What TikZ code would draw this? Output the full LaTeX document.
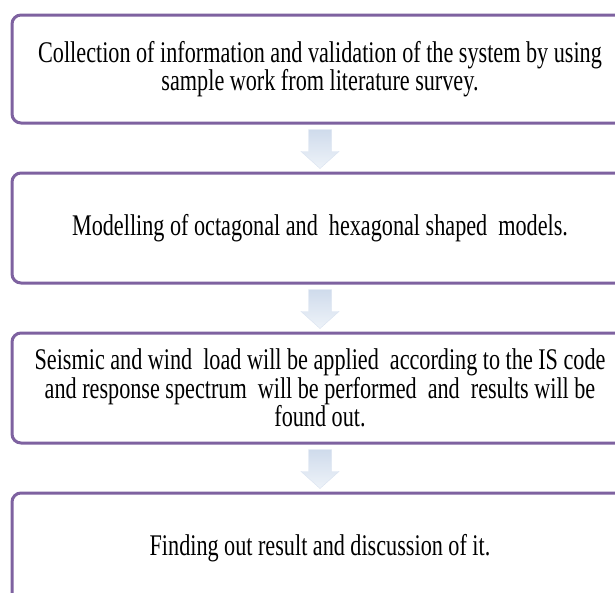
\documentclass[tikz,border=0pt]{standalone}
\usepackage{fontspec}
\setmainfont{Liberation Serif}
\newfontfamily\stepfont[FakeStretch=0.74]{Liberation Serif}
\usetikzlibrary{calc}
\definecolor{boxline}{HTML}{7E62A0}
\definecolor{arrtop}{HTML}{CFDBEC}
\definecolor{arrbot}{HTML}{EEF3F9}
\begin{document}
\begin{tikzpicture}[x=1pt,y=1pt,
    stepbox/.style={draw=boxline,line width=3pt,rounded corners=9pt,fill=white,
      minimum width=616pt,inner sep=3pt,text width=608pt,align=flush center,
      font=\stepfont\fontsize{30}{24.5}\selectfont,
      execute at begin node={\spaceskip=5.5pt\relax\xspaceskip=5.5pt\relax}},
    downarr/.style={top color=arrtop,bottom color=arrbot,draw=arrtop!80!white,line width=0.4pt}]
  \useasboundingbox(0,0)rectangle(615,-592);
  \clip(0,0)rectangle(615,-592);
  \node[stepbox,minimum height=108pt](b1)at(320,-69){Collection of information and validation of the system by using\\sample work from literature survey.};
  \node[stepbox,minimum height=110pt](b2)at(320,-228){Modelling of octagonal and\ \ hexagonal shaped\ \ models.};
  \node[stepbox,minimum height=110pt](b3)at(320,-388){Seismic and wind\ \ load will be applied\ \ according to the IS code\\and response spectrum\ \ will be performed\ \ and\ \ results will be\\found out.};
  \node[stepbox,minimum height=110pt](b4)at(320,-548){Finding out result and discussion of it.};
  %block arrows between the steps
  \foreach \a/\b in {b1/b2,b2/b3,b3/b4}{
    \coordinate(t)at($(\a.south)+(0,-5)$);
    \coordinate(h)at($(\b.north)+(0,3)$);
    \shade[downarr]($(t)+(-11.5,0)$)--($(t)+(11.5,0)$)--($(t)+(11.5,-22)$)--($(t)+(19,-22)$)
      --(h)--($(t)+(-19,-22)$)--($(t)+(-11.5,-22)$)--cycle;
  }
\end{tikzpicture}
\end{document}
